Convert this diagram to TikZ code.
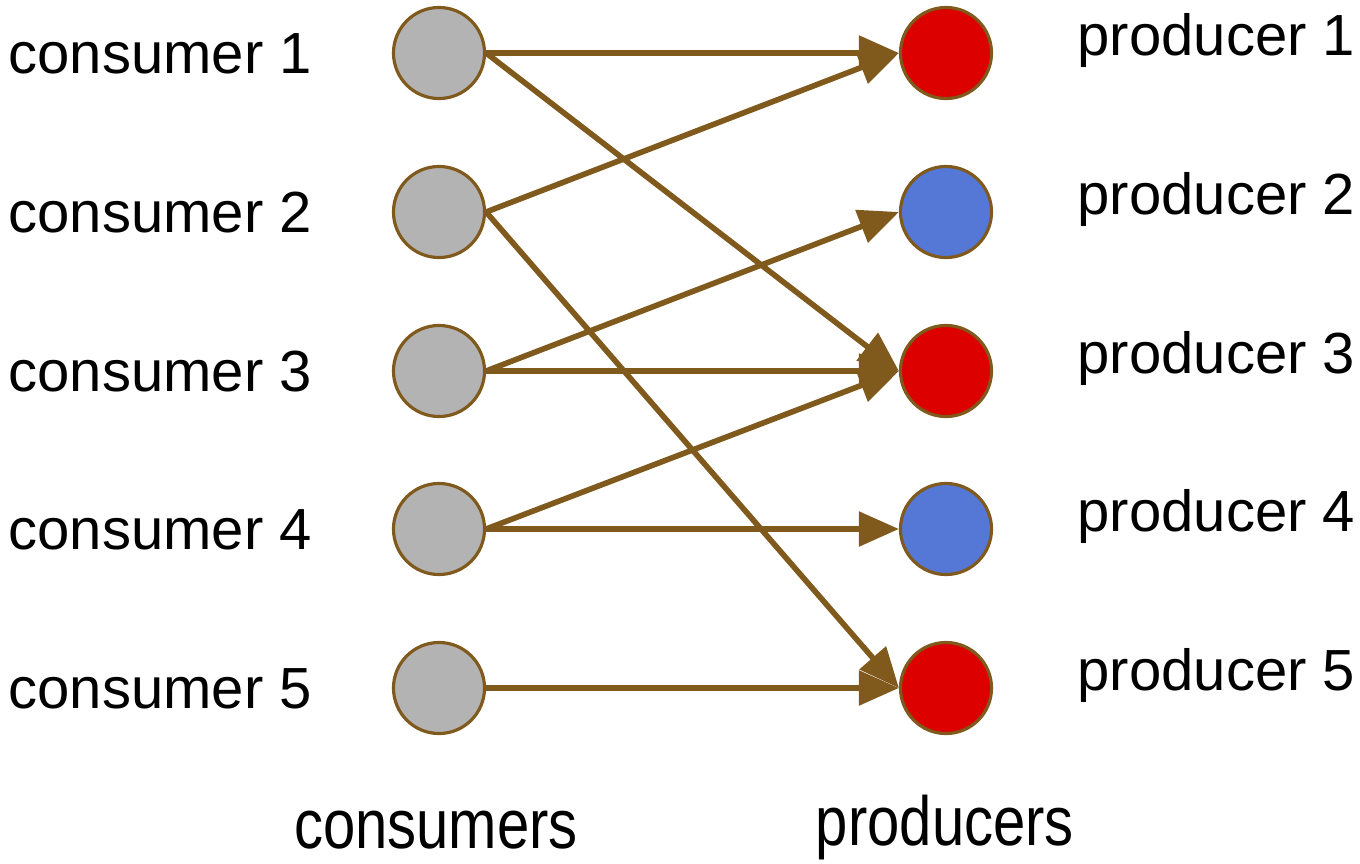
\documentclass[tikz,border=0pt]{standalone}
\usepackage{fontspec}
\setmainfont{Liberation Sans}
\usetikzlibrary{arrows.meta}
\definecolor{edgebrown}{RGB}{128,89,28}
\definecolor{nodegrey}{RGB}{179,179,179}
\definecolor{prodred}{RGB}{221,0,0}
\definecolor{prodblue}{RGB}{85,120,214}

\begin{document}
\begin{tikzpicture}[x=0.01cm,y=-0.01cm,font=\fontsize{16.5}{20}\selectfont,
  vert/.style={circle,draw=edgebrown,line width=0.9pt,minimum size=0.91cm,inner sep=0pt},
  link/.style={edgebrown,line width=1.6pt,-{Triangle[length=4mm,width=3.4mm]}},
  lbl/.style={inner sep=0pt}]
  \useasboundingbox (0,0) rectangle (1360,863);
  \foreach \i/\y/\col in {1/53/prodred,2/212/prodblue,3/371/prodred,4/529/prodblue,5/688/prodred}{
    \node[vert,fill=nodegrey] (c\i) at (439,\y) {};
    \node[vert,fill=\col] (p\i) at (946,\y) {};
    \node[lbl,anchor=base west] (cl\i) at (8,\y+20) {consumer \i};
    \node[lbl,anchor=base west] (pl\i) at (1077,\y+2) {producer \i};}
  \foreach \a/\b in {1/1,1/3,2/1,2/5,3/2,3/3,4/3,4/4,5/5}
    \draw[link] (c\a.east) -- (p\b.west);
  \node[lbl,anchor=base] (ct) at (436,848) {\scalebox{1}[1.2]{consumers}};
  \node[lbl,anchor=base] (pt) at (945,845) {\scalebox{1}[1.2]{producers}};
\end{tikzpicture}
\end{document}
